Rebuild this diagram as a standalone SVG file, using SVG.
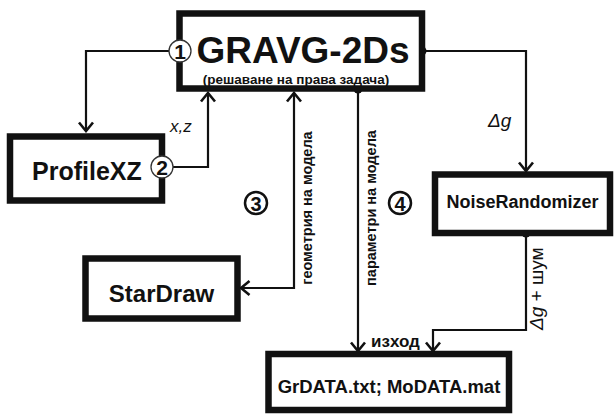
<svg xmlns="http://www.w3.org/2000/svg" width="615" height="417" viewBox="0 0 615 417">
<style>
text{font-family:"Liberation Sans",Arial,sans-serif;fill:#111}
.box{fill:#fff;stroke:#111;stroke-width:6.5}
.ln{fill:none;stroke:#111;stroke-width:2.2}
.b{font-weight:bold}
.it{font-style:italic}
.dot{fill:#111}
.c1{fill:#fff;stroke:#333;stroke-width:1.3}
.c3{fill:#fff;stroke:#111;stroke-width:2.5}
</style>
<defs>
<marker id="arr" viewBox="-11 -9 13 18" refX="0" refY="0" markerWidth="13" markerHeight="18" markerUnits="userSpaceOnUse" orient="auto-start-reverse">
<path d="M-8.5,-7 L0,0 L-8.5,7" fill="none" stroke="#111" stroke-width="2.6"/>
</marker>
</defs>
<rect width="615" height="417" fill="#fff"/>
<g id="connectors">
<path class="ln" d="M170,51 H86 V131" marker-end="url(#arr)"/>
<path class="ln" d="M172,167 H208 V93" marker-end="url(#arr)"/>
<path class="ln" d="M422,51 H526 V171" marker-end="url(#arr)"/>
<path class="ln" d="M241,288 H294 V93" marker-start="url(#arr)" marker-end="url(#arr)"/>
<path class="ln" d="M358,89 V351" marker-end="url(#arr)"/>
<path class="ln" d="M526,233 V330 H433 V351" marker-end="url(#arr)"/>
<circle class="dot" cx="422" cy="51" r="4.5"/>
<circle class="dot" cx="358" cy="89" r="4.5"/>
<circle class="dot" cx="526" cy="233" r="4.5"/>
<text class="it" x="170" y="132" font-size="17">x,z</text>
<text class="it" x="488" y="127" font-size="19">Δg</text>
<text class="b" font-size="14.5" text-anchor="middle" transform="translate(312,208) rotate(-90)">геометрия на модела</text>
<text class="b" font-size="14.5" text-anchor="middle" transform="translate(376,208) rotate(-90)">параметри на модела</text>
<text font-size="19" transform="translate(543,330) rotate(-90)"><tspan class="it">Δg</tspan> + шум</text>
<text class="b" x="371" y="347" font-size="17">изход</text>
</g>
<g id="gravg">
<rect class="box" x="179.5" y="13.5" width="242.5" height="75"/>
<text class="b" x="303" y="63" font-size="37" text-anchor="middle">GRAVG-2Ds</text>
<text class="b" x="296" y="83.5" font-size="13.5" text-anchor="middle">(решаване на права задача)</text>
<circle class="c1" cx="180" cy="51" r="11"/>
<text class="b" x="180" y="58.5" font-size="21" text-anchor="middle">1</text>
</g>
<g id="profilexz">
<rect class="box" x="10" y="136.5" width="152" height="64"/>
<text class="b" x="32" y="180" font-size="25">ProfileXZ</text>
<circle class="c1" cx="162" cy="167" r="11"/>
<text class="b" x="162" y="174.5" font-size="21" text-anchor="middle">2</text>
</g>
<g id="stardraw">
<rect class="box" x="85.5" y="258.5" width="152" height="60"/>
<text class="b" x="161.5" y="302" font-size="24" text-anchor="middle">StarDraw</text>
</g>
<g id="noise">
<rect class="box" x="435" y="174.5" width="175" height="58.5"/>
<text class="b" x="522.5" y="208" font-size="18" text-anchor="middle">NoiseRandomizer</text>
</g>
<g id="grdata">
<rect class="box" x="268.5" y="354" width="240.5" height="56"/>
<text class="b" x="389" y="393" font-size="18.5" text-anchor="middle">GrDATA.txt; MoDATA.mat</text>
</g>
<g id="labels">
<circle class="c3" cx="256" cy="203" r="11"/>
<text class="b" x="256" y="210.5" font-size="20" text-anchor="middle">3</text>
<circle class="c3" cx="400" cy="203" r="11"/>
<text class="b" x="400" y="210.5" font-size="20" text-anchor="middle">4</text>
</g>
</svg>
